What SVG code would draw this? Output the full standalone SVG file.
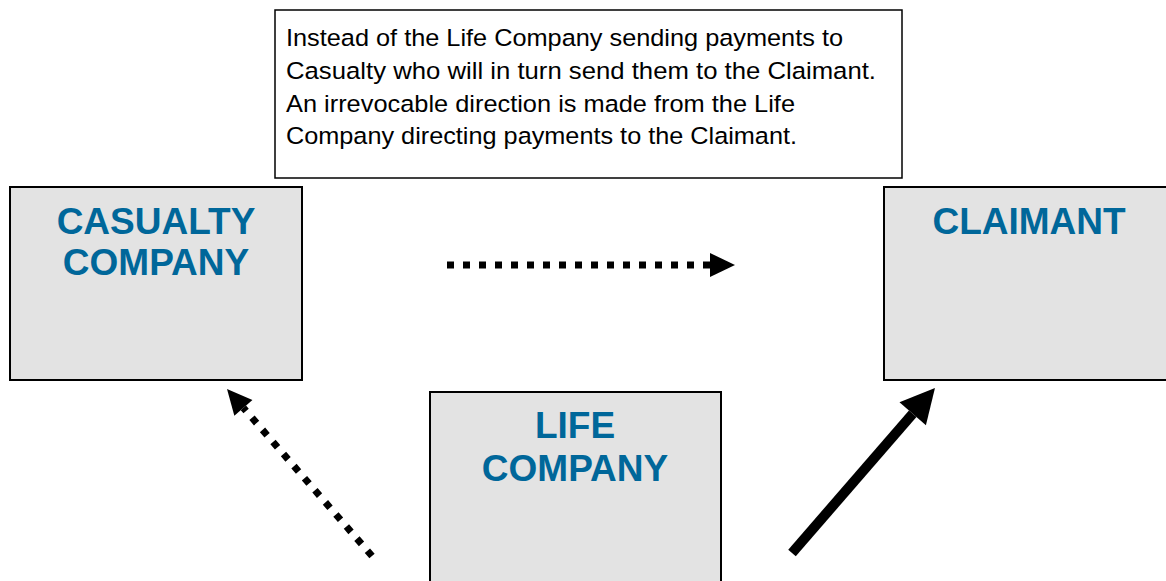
<svg xmlns="http://www.w3.org/2000/svg" width="1166" height="581" viewBox="0 0 1166 581">
<style>
.box{fill:#e3e3e3;stroke:#000;stroke-width:2}
.note{fill:#fff;stroke:#000;stroke-width:1.5}
.title{font-family:"Liberation Sans",Arial,sans-serif;font-weight:bold;font-size:37px;fill:#00679a;text-anchor:middle}
.body{font-family:"Liberation Sans",Arial,sans-serif;font-size:24.5px;fill:#000}
.dot{fill:none;stroke:#000;stroke-width:7;stroke-dasharray:7 9}
.solid{fill:none;stroke:#000;stroke-width:10}
</style>
<defs>
<marker id="headS" markerUnits="userSpaceOnUse" markerWidth="26" markerHeight="26" refX="0" refY="12" orient="auto" overflow="visible"><path d="M0,0 L25,12 L0,24 z" fill="#000"/></marker>
<marker id="headL" markerUnits="userSpaceOnUse" markerWidth="36" markerHeight="36" refX="0" refY="17.5" orient="auto" overflow="visible"><path d="M0,0 L34,17.5 L0,35 z" fill="#000"/></marker>
</defs>
<g id="note">
<rect class="note" x="275" y="10" width="627" height="168"/>
<text class="body" x="286" y="46" textLength="557" lengthAdjust="spacingAndGlyphs">Instead of the Life Company sending payments to</text>
<text class="body" x="286" y="79" textLength="590" lengthAdjust="spacingAndGlyphs">Casualty who will in turn send them to the Claimant.</text>
<text class="body" x="286" y="112" textLength="509" lengthAdjust="spacingAndGlyphs">An irrevocable direction is made from the Life</text>
<text class="body" x="286" y="144" textLength="511" lengthAdjust="spacingAndGlyphs">Company directing payments to the Claimant.</text>
</g>
<g id="casualty">
<rect class="box" x="10" y="187" width="292" height="193"/>
<text class="title" x="156" y="234">CASUALTY</text>
<text class="title" x="156" y="275">COMPANY</text>
</g>
<g id="claimant">
<rect class="box" x="884" y="187" width="292" height="193"/>
<text class="title" x="1029" y="234">CLAIMANT</text>
</g>
<g id="life">
<rect class="box" x="430" y="392" width="291" height="200"/>
<text class="title" x="575" y="438">LIFE</text>
<text class="title" x="575" y="481">COMPANY</text>
</g>
<g id="connectors">
<line class="dot" x1="447" y1="265" x2="710" y2="265" marker-end="url(#headS)"/>
<line class="dot" x1="372" y1="556" x2="243.4" y2="407.9" marker-end="url(#headS)"/>
<line class="solid" x1="792" y1="553" x2="912.7" y2="413.7" marker-end="url(#headL)"/>
</g>
</svg>
